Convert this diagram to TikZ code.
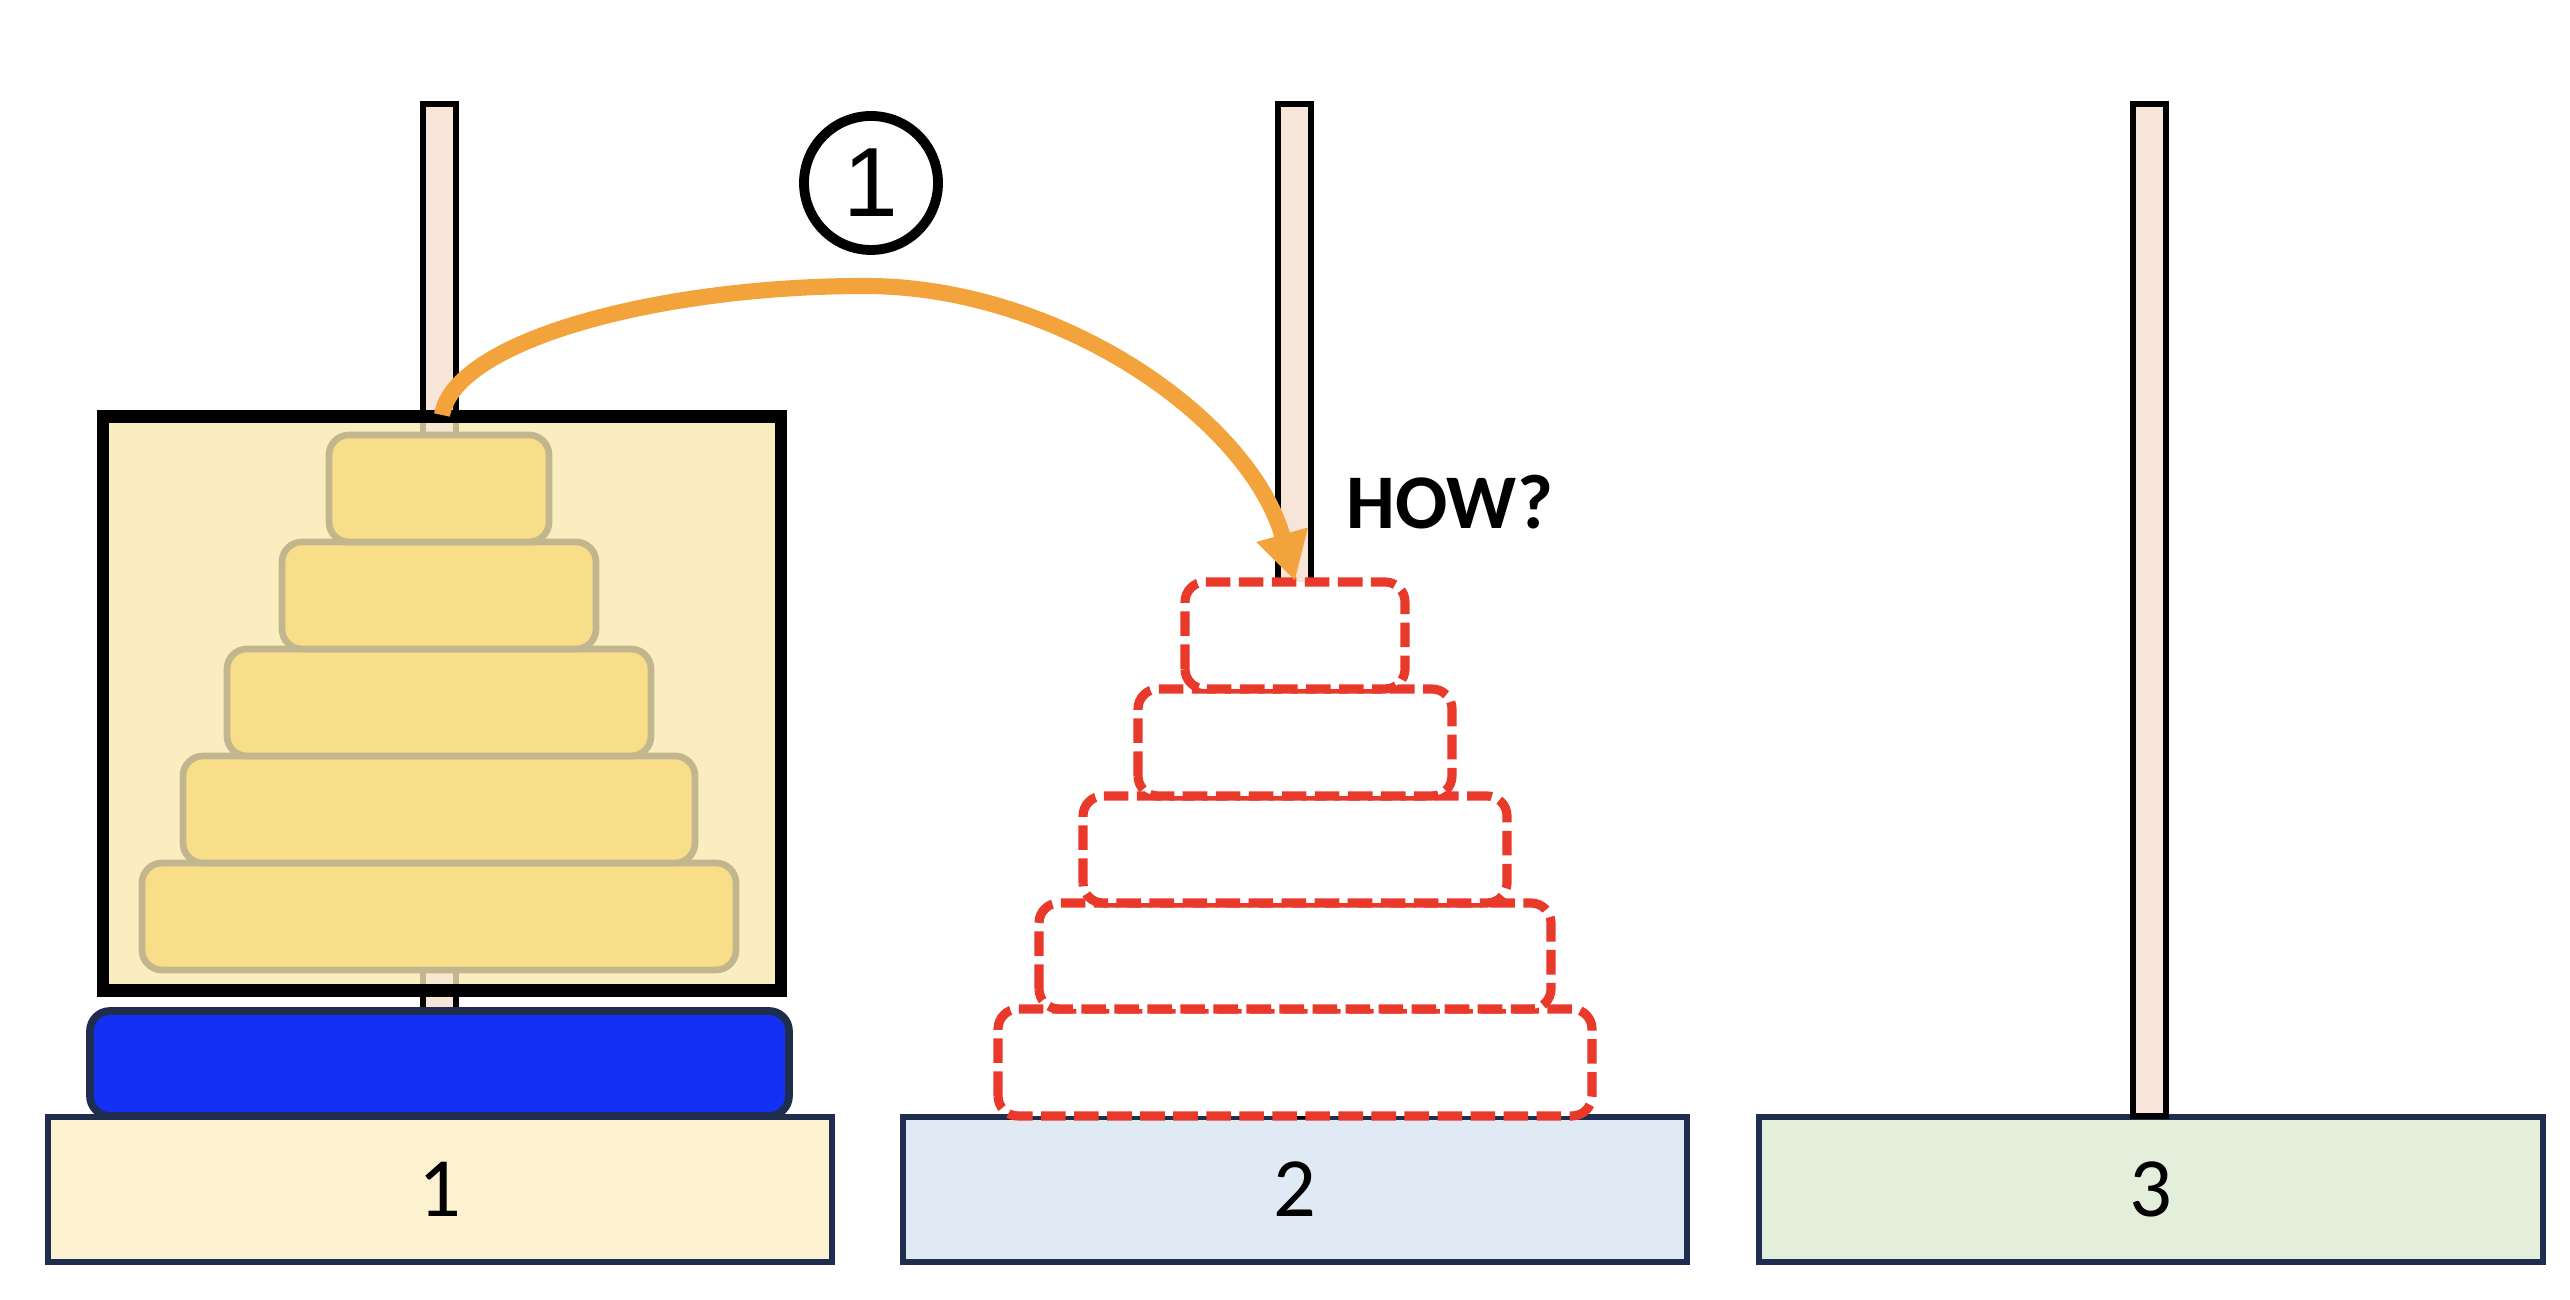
\documentclass[tikz,border=0pt]{standalone}
\usepackage{fontspec}
\setmainfont{Carlito}
\newfontfamily\stepfont{Liberation Sans}
\usetikzlibrary{arrows.meta}

\definecolor{pegfill}{HTML}{F6E5D8}
\definecolor{boxfill}{HTML}{FAEDBF}
\definecolor{diskfill}{HTML}{F9DE89}
\definecolor{disktan}{HTML}{C1B68D}
\definecolor{bigblue}{HTML}{1530F5}
\definecolor{basenavy}{HTML}{1F2D4E}
\definecolor{baseone}{HTML}{FDF2D0}
\definecolor{basetwo}{HTML}{DFEAF5}
\definecolor{basethree}{HTML}{E3EFDA}
\definecolor{dashred}{HTML}{E8392A}
\definecolor{moveorange}{HTML}{F2A33B}

\tikzset{
  peg/.style={draw=black,fill=pegfill,line width=1.7pt},
  base/.style={draw=basenavy,line width=1.7pt,minimum width=7.84cm,
    minimum height=1.45cm,inner sep=0pt,font=\fontsize{24}{28}\selectfont},
  olddisk/.style={draw=disktan,fill=diskfill,line width=1.9pt,rounded corners=0.2cm},
  newdisk/.style={draw=dashred,fill=white,line width=2.6pt,
    dash pattern=on 7pt off 2.4pt,rounded corners=0.2cm},
  movearrow/.style={draw=moveorange,line width=4.6pt,
    -{Triangle[length=0.48cm,width=0.5cm]}}
}

\begin{document}
\begin{tikzpicture}

	\useasboundingbox (0,0) rectangle (25.70,13.00);

	% bases
	\node[base,fill=baseone] (base1) at (4.40,1.105) {1};
	\node[base,fill=basetwo] (base2) at (12.945,1.105) {2};
	\node[base,fill=basethree] (base3) at (21.505,1.105) {3};

	% pegs
	\draw[peg] (4.23,1.84) rectangle (4.56,11.96);
	\draw[peg] (12.78,1.84) rectangle (13.11,11.96);
	\draw[peg] (21.33,1.84) rectangle (21.66,11.96);

	% largest disk
	\draw[draw=basenavy,fill=bigblue,line width=2.2pt,rounded corners=0.2cm]
		(0.90,1.84) rectangle (7.89,2.89);

	% the smaller disks, as one block
	\fill[boxfill] (1.03,3.095) rectangle (7.81,8.835);
	\draw[draw=disktan,fill=pegfill!70!boxfill,line width=1.7pt]
		(4.23,3.095) rectangle (4.56,8.835);
	\draw[olddisk] (1.42,3.30) rectangle (7.36,4.37);
	\draw[olddisk] (1.83,4.37) rectangle (6.95,5.44);
	\draw[olddisk] (2.27,5.44) rectangle (6.51,6.51);
	\draw[olddisk] (2.82,6.51) rectangle (5.96,7.58);
	\draw[olddisk] (3.29,7.58) rectangle (5.49,8.65);
	\draw[line width=3.6pt] (1.03,3.095) rectangle (7.81,8.835);

	% where the block has to go
	\draw[newdisk] (9.98,1.84) rectangle (15.92,2.91);
	\draw[newdisk] (10.39,2.91) rectangle (15.51,3.97);
	\draw[newdisk] (10.83,3.97) rectangle (15.07,5.04);
	\draw[newdisk] (11.38,5.04) rectangle (14.52,6.11);
	\draw[newdisk] (11.85,6.11) rectangle (14.05,7.18);

	% move
	\coordinate (src) at (4.42,8.85);
	\coordinate (top) at (8.65,10.14);
	\coordinate (dst) at (12.95,7.19);
	\draw[movearrow]
		(src) .. controls (4.55,9.6) and (6.6,10.14) .. (top)
		.. controls (10.6,10.14) and (12.5,8.8) .. (dst);

	\node[draw,circle,line width=2.8pt,minimum size=1.34cm,inner sep=0pt,
		font=\stepfont\fontsize{28}{28}\selectfont] (step1) at (8.71,11.17) {1};

	\node[font=\bfseries\fontsize{22}{26}\selectfont] (how) at (14.50,7.98) {HOW?};

\end{tikzpicture}
\end{document}
